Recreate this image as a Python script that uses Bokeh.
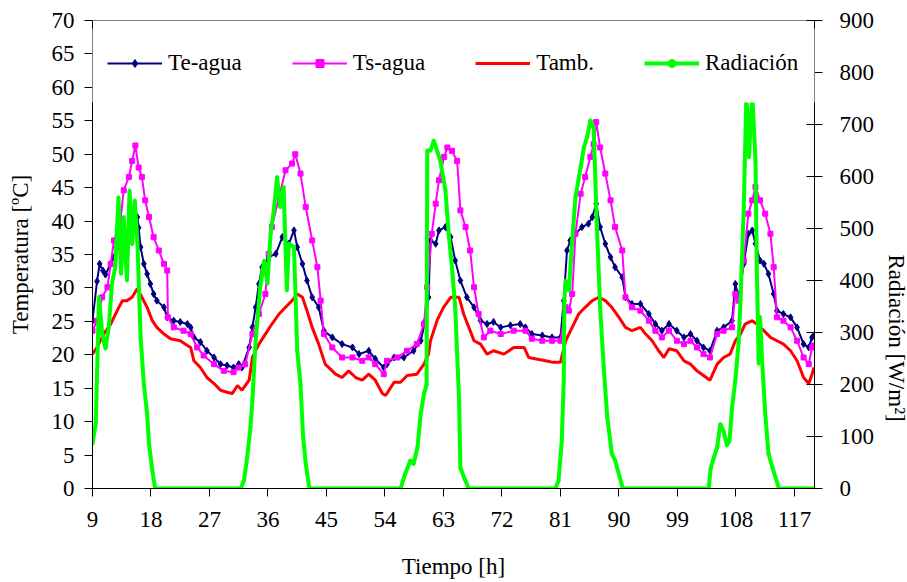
import math
from bokeh.plotting import figure
from bokeh.models import (Range1d, LinearAxis, FixedTicker, Legend, LegendItem,
                          BoxAnnotation)
from bokeh.embed import file_html
from bokeh.resources import INLINE

# ---------------- data ----------------
x_ticks = [9, 18, 27, 36, 45, 54, 63, 72, 81, 90, 99, 108, 117]
t_ticks = list(range(0, 75, 5))
r_ticks = list(range(0, 1000, 100))

te_t = [9.0, 9.7, 10.1, 10.6, 11.0, 11.8, 12.3, 12.8, 13.3, 13.8, 14.8, 15.6, 15.9, 16.1, 16.4, 16.9, 17.4, 17.9, 18.4, 18.9, 20.0, 20.5, 21.5, 22.5, 23.6, 24.1, 24.6, 25.6, 26.6, 27.7, 28.7, 29.7, 30.7,
        31.5, 32.0, 33.1, 33.6, 34.1, 34.6, 35.1, 36.1, 37.2, 38.2, 39.2, 40.0, 40.5, 41.3, 42.0, 42.8, 43.8, 44.6, 45.9, 47.4, 49.0, 50.0, 51.5, 52.5, 53.8,
        54.3, 55.4, 56.9, 58.4, 59.5, 60.2, 60.7, 61.0, 61.8, 62.3, 63.3, 64.1, 64.8, 65.6, 66.6, 67.7, 68.7, 69.7, 70.7, 71.8, 73.3, 74.8, 75.6,
        76.6, 78.2, 79.7, 81.0, 81.5, 82.0, 82.5, 83.3, 84.3, 85.3, 85.9, 86.5, 87.1, 87.9, 88.7, 89.4, 90.5, 91.0, 92.0, 93.3, 94.6, 95.6, 96.6, 97.7,
        98.9, 100.0, 101.0, 102.0, 103.0, 104.0, 105.1, 106.1, 107.4, 107.9, 108.4, 109.2, 109.9, 110.5, 111.0, 111.7, 112.3, 113.0, 113.8, 114.3, 115.3, 116.4, 117.4, 118.4, 119.2, 119.7, 120.0]
te_v = [25.1, 31.0, 33.6, 32.6, 32.0, 33.6, 34.6, 36.0, 38.0, 37.6, 38.6, 39.5, 40.6, 39.0, 36.1, 33.6, 32.1, 30.6, 29.1, 28.1, 27.1, 25.6, 25.1, 24.9, 24.6, 24.1, 22.6, 21.9, 20.6, 19.6, 18.6, 18.4, 18.1,
        18.6, 18.1, 21.1, 24.1, 27.1, 30.6, 33.1, 34.6, 35.1, 37.6, 36.6, 38.6, 36.1, 33.6, 31.1, 28.6, 27.1, 23.6, 22.6, 21.6, 21.1, 20.1, 20.6, 19.4, 18.1,
        18.6, 19.6, 19.6, 20.6, 22.1, 25.1, 28.6, 37.1, 36.6, 38.6, 39.1, 37.6, 34.1, 31.1, 28.6, 27.1, 25.1, 24.6, 24.9, 24.1, 24.4, 24.6, 24.1,
        23.1, 22.9, 22.6, 22.6, 28.1, 35.6, 37.1, 38.1, 39.1, 39.6, 40.6, 42.6, 39.1, 36.6, 34.6, 33.1, 31.6, 28.6, 27.6, 27.6, 26.1, 24.6, 23.6, 24.6,
        23.6, 22.6, 23.1, 22.1, 21.1, 20.6, 23.6, 24.1, 25.1, 30.6, 28.6, 33.6, 38.1, 38.6, 36.6, 34.1, 33.6, 32.1, 29.1, 26.6, 26.1, 25.6, 24.1, 21.6, 21.1, 22.6, 22.9]

ts_t = [9.0, 9.7, 10.5, 11.3, 11.8, 12.3, 13.3, 13.8, 14.6, 15.1, 15.6, 16.1, 16.6, 17.1, 17.7, 18.4, 19.2, 20.0, 20.5, 20.6, 21.5, 23.0, 24.1, 25.1, 26.1, 27.7, 29.2, 30.7,
        31.5, 32.5, 33.6, 34.6, 35.6, 36.1, 36.6, 37.7, 38.7, 39.7, 40.2, 41.0, 41.8, 42.8, 43.6, 44.1, 44.6, 45.9, 47.4, 49.0, 50.5, 51.5, 52.5, 53.8,
        54.3, 55.9, 57.4, 58.9, 60.0, 60.5, 61.2, 61.8, 62.3, 63.1, 63.6, 64.3, 65.1, 65.6, 66.4, 67.1, 67.7, 68.4, 69.2, 70.2, 71.8, 73.8, 75.6,
        76.6, 78.2, 79.7, 81.0, 81.8, 82.3, 82.8, 83.3, 84.1, 84.8, 85.6, 86.1, 86.5, 87.1, 87.9, 88.7, 89.4, 90.5, 91.0, 92.0, 93.3, 94.6, 95.6, 96.6, 97.7,
        98.9, 100.0, 101.0, 102.0, 103.0, 104.0, 105.1, 106.1, 107.4, 107.9, 108.4, 109.2, 109.9, 110.5, 111.0, 111.7, 112.5, 113.3, 113.8, 114.3, 115.3, 116.4, 117.4, 118.4, 119.2, 119.7, 120.0]
ts_v = [23.6, 25.1, 28.6, 30.1, 33.6, 37.1, 40.1, 44.6, 46.6, 49.0, 51.3, 48.0, 46.6, 43.1, 40.6, 37.6, 35.6, 33.6, 32.6, 25.6, 24.1, 23.6, 23.1, 21.1, 19.9, 18.6, 17.6, 17.4,
        18.1, 18.6, 23.1, 26.1, 29.1, 35.1, 39.1, 43.6, 47.6, 48.6, 50.0, 47.1, 42.1, 37.1, 33.1, 28.1, 23.1, 21.1, 19.6, 19.6, 19.1, 19.6, 18.6, 17.1,
        19.1, 19.6, 20.6, 21.6, 24.6, 30.1, 38.1, 42.6, 46.1, 49.6, 51.0, 50.5, 49.0, 41.6, 39.1, 35.6, 30.1, 26.1, 22.6, 23.6, 23.1, 23.6, 23.6,
        22.4, 22.1, 22.1, 22.1, 27.1, 26.6, 29.1, 38.1, 44.1, 46.6, 49.6, 51.5, 54.8, 51.0, 47.1, 43.1, 39.1, 35.6, 28.6, 27.1, 26.6, 25.1, 23.6, 22.6, 23.6,
        22.1, 21.6, 22.1, 21.1, 20.1, 19.6, 23.1, 23.6, 24.1, 29.1, 28.1, 34.1, 41.1, 43.1, 45.1, 43.1, 41.1, 38.1, 33.1, 25.6, 25.1, 24.1, 22.1, 19.6, 18.6, 21.1, 21.4]

ta_t = [9.0, 9.7, 10.7, 11.8, 12.8, 13.6, 14.3, 15.1, 15.9, 16.6, 17.4, 18.2, 18.9, 20.0, 21.0, 22.5, 23.6, 24.1, 24.6, 25.6, 26.6, 27.7, 28.7, 29.7, 30.5, 31.3,
        32.0, 33.1, 33.6, 34.6, 35.6, 36.6, 37.7, 38.7, 39.7, 40.5, 41.3, 42.0, 42.8, 43.8, 44.8, 46.4, 47.4, 48.4, 49.5, 50.5, 51.5, 52.5, 53.6,
        54.1, 55.4, 56.4, 57.4, 58.9, 60.0, 60.7, 61.0, 62.0, 63.0, 64.1, 65.4, 66.1, 66.9, 67.7, 68.7, 69.7, 70.7, 72.3, 73.8, 75.4, 76.1,
        77.1, 78.7, 79.7, 81.0, 81.8, 82.8, 83.8, 84.8, 85.9, 86.9, 87.9, 88.9, 90.0, 91.0, 92.0, 93.3, 94.1, 95.1, 96.1, 96.9, 97.7,
        98.9, 100.0, 101.0, 102.0, 103.0, 104.0, 105.1, 106.1, 107.1, 107.9, 108.7, 109.4, 110.5, 111.2, 112.3, 113.3, 114.3, 115.3, 116.4, 117.4, 118.4, 119.2, 119.7, 120.0]
ta_v = [20.1, 21.1, 23.1, 24.6, 26.6, 28.1, 28.1, 28.6, 29.9, 28.6, 27.1, 25.1, 24.1, 23.1, 22.4, 22.1, 21.4, 21.1, 19.1, 18.1, 16.6, 15.7, 14.7, 14.4, 14.2, 15.4,
        14.7, 16.2, 19.6, 21.6, 23.1, 24.6, 26.1, 27.1, 28.1, 29.1, 28.6, 26.6, 24.1, 21.6, 18.6, 17.1, 16.6, 17.6, 16.6, 16.2, 17.1, 16.2, 14.2,
        13.9, 15.9, 15.9, 16.9, 17.1, 18.6, 20.1, 22.1, 25.1, 27.1, 28.6, 28.6, 26.1, 24.1, 22.1, 21.6, 20.1, 20.6, 20.1, 21.1, 21.1, 19.6,
        19.4, 19.1, 18.9, 18.9, 22.1, 24.1, 26.1, 27.1, 28.1, 28.6, 28.1, 27.1, 25.6, 24.1, 23.6, 24.1, 23.1, 22.1, 20.6, 19.6, 20.9,
        20.6, 19.1, 18.6, 17.6, 16.9, 16.2, 18.6, 19.6, 20.1, 22.1, 23.1, 24.6, 25.1, 24.6, 23.6, 22.6, 22.1, 21.6, 20.6, 19.1, 16.6, 15.7, 17.1, 18.1]

rad_t = [9.0, 9.5, 10.0, 10.5, 11.0, 11.5, 12.0, 12.5, 13.0, 13.4, 13.8, 14.3, 14.7, 15.1, 15.5, 15.9, 16.4, 16.9, 17.4, 17.7, 18.2, 18.6, 18.8,
         31.8, 32.3, 32.8, 33.3, 33.6, 34.1, 34.8, 35.4, 35.9, 36.4, 36.9, 37.4, 37.9, 38.4, 38.9, 39.2, 40.0, 40.5, 41.0, 41.4, 41.8, 42.3, 42.5,
         56.4, 57.1, 57.9, 58.4, 59.0, 59.5, 60.0, 60.4, 60.5, 61.0, 61.5, 62.5, 63.3, 63.8, 64.3, 64.8, 65.1, 65.4, 65.6, 66.2, 66.9,
         80.2, 80.7, 81.2, 81.5, 81.6, 81.8, 82.3, 82.8, 83.3, 84.1, 84.6, 85.1, 85.6, 86.1, 86.6, 87.1, 87.65, 88.2, 88.9, 89.4, 90.6,
         103.8, 104.1, 104.6, 105.1, 105.6, 106.1, 106.6, 107.0, 107.4, 107.9, 108.4, 108.7, 109.2, 109.6, 110.0, 110.5, 111.0, 111.2, 111.5, 111.7, 112.0, 112.5, 113.0, 113.6, 114.6, 120.0]
rad_v = [86, 125, 368, 297, 269, 310, 394, 426, 560, 413, 522, 400, 573, 470, 554, 477, 291, 201, 144, 85, 35, 3, 0,
         0, 15, 60, 118, 169, 285, 387, 438, 394, 490, 535, 599, 541, 580, 381, 471, 464, 265, 200, 100, 48, 5, 0,
         0, 28, 54, 47, 79, 144, 182, 200, 650, 650, 669, 631, 573, 490, 426, 349, 259, 169, 40, 20, 0,
         0, 15, 92, 208, 362, 400, 381, 477, 560, 618, 656, 676, 708, 695, 503, 349, 233, 137, 67, 54, 0,
         0, 38, 60, 79, 124, 110, 83, 92, 156, 208, 280, 362, 541, 760, 637, 760, 631, 426, 240, 330, 250, 144, 67, 41, 0, 0]

# ---------------- figure ----------------
FONT = "Liberation Serif, Times New Roman, Times, serif"
FS = "23px"

p = figure(frame_width=722, frame_height=468,
           x_range=Range1d(9, 120.08), y_range=Range1d(0, 70),
           output_backend="svg", toolbar_location=None,
           min_border_left=92, min_border_right=93,
           min_border_top=20, min_border_bottom=94,
           background_fill_color="white", border_fill_color="white")
p.extra_y_ranges = {"rad": Range1d(0, 900)}
p.grid.visible = False
p.outline_line_color = None

# series
te_line = p.line(te_t, te_v, line_color="#000080", line_width=2)
te_pts = p.scatter(te_t, te_v, marker="diamond", size=7, color="#000080")
ts_line = p.line(ts_t, ts_v, line_color="#FF00FF", line_width=2)
ts_pts = p.scatter(ts_t, ts_v, marker="square", size=5, color="#FF00FF")
ta_line = p.line(ta_t, ta_v, line_color="#FF0000", line_width=3)
rad_line = p.line(rad_t, rad_v, line_color="#00FF00", line_width=4, y_range_name="rad")
rad_pts = p.scatter(rad_t, rad_v, marker="circle", size=3, color="#00FF00", y_range_name="rad")

def style(ax):
    ax.major_label_text_font = FONT
    ax.major_label_text_font_size = FS
    ax.major_label_text_color = "black"
    ax.axis_label_text_font = FONT
    ax.axis_label_text_font_size = FS
    ax.axis_label_text_font_style = "normal"
    ax.axis_label_text_color = "black"
    ax.axis_line_color = "black"
    ax.axis_line_width = 1
    ax.major_tick_line_color = "black"
    ax.minor_tick_line_color = None
    ax.major_tick_in = 0
    ax.major_tick_out = 8

# bottom
xa = p.xaxis[0]
style(xa)
xa.ticker = FixedTicker(ticks=x_ticks)
xa.axis_label = "Tiempo [h]"
xa.major_label_standoff = 15
xa.axis_label_standoff = 24

# left
ya = p.yaxis[0]
style(ya)
ya.ticker = FixedTicker(ticks=t_ticks)
ya.axis_label = "Temperatura [ºC]"
ya.major_label_standoff = 10
ya.axis_label_standoff = 16

# right
ra = LinearAxis(y_range_name="rad", ticker=FixedTicker(ticks=r_ticks),
                axis_label="Radiación [W/m²]")
style(ra)
ra.major_tick_in = 8
ra.major_label_standoff = 17
ra.axis_label_standoff = 19
try:
    ra.axis_label_orientation = -math.pi / 2
except Exception:
    pass
p.add_layout(ra, "right")

# top border line
ta_ax = LinearAxis(ticker=FixedTicker(ticks=[]), axis_line_color="#808080",
                   major_tick_line_color=None, minor_tick_line_color=None)
p.add_layout(ta_ax, "above")

# white legend area
mask = BoxAnnotation(left=82, right=824, top=28, bottom=102,
                     left_units="canvas", right_units="canvas",
                     top_units="canvas", bottom_units="canvas",
                     fill_color="white", fill_alpha=1.0, line_color=None,
                     level="annotation")
p.add_layout(mask)

legend = Legend(items=[
    LegendItem(label="Te-agua", renderers=[te_line, te_pts]),
    LegendItem(label="Ts-agua", renderers=[ts_line, ts_pts]),
    LegendItem(label="Tamb.", renderers=[ta_line]),
    LegendItem(label="Radiación", renderers=[rad_line, rad_pts]),
], orientation="horizontal", location=(15, 412),
    spacing=50, glyph_width=55, glyph_height=20, label_standoff=6,
    padding=0, margin=0, background_fill_alpha=0, border_line_color=None,
    label_text_font=FONT, label_text_font_size=FS, label_text_color="black")
p.add_layout(legend)

open("out.html", "w").write(file_html(p, INLINE))
